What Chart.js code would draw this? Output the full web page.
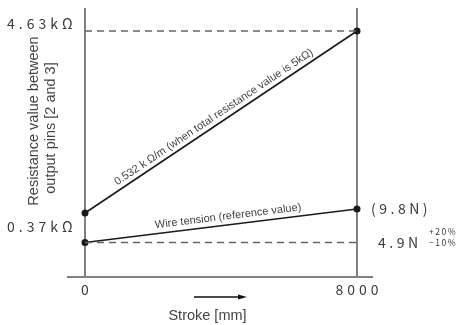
<!DOCTYPE html>
<html><head><meta charset="utf-8">
<script src="https://cdn.jsdelivr.net/npm/chart.js@4/dist/chart.umd.min.js"></script>
<style>html,body{margin:0;padding:0;background:#fff}#wrap{width:460px;height:325px;position:relative}</style>
</head><body><div id="wrap"><canvas id="c" width="460" height="325"></canvas></div>
<script>
// ---- data ----
const strokeMm = [0, 8000];
const resistanceKOhm = [0.37, 4.63];
const resistanceMaxKOhm = [4.63, 4.63];
const tensionN = [4.9, 9.8];
const tensionRefN = [4.9, 4.9];
const xTickLabels = ['0', '8000'];
const resLabels = ['0.37kΩ', '4.63kΩ'];
const tensionEndLabel = '(9.8N)';
const tensionRefLabel = '4.9N';
const tolPlus = '+20%';
const tolMinus = '−10%';
const slopeText = '0.532 k Ω/m (when total resistance value is 5kΩ)';
const tensionText = 'Wire tension (reference value)';
const yTitle = ['Resistance value between', 'output pins [2 and 3]'];
const xTitle = 'Stroke [mm]';

const pts = (xs, ys) => xs.map((x, i) => ({x, y: ys[i]}));
const JP = '"Noto Sans CJK JP", "DejaVu Sans", sans-serif';
const SANS = '"Liberation Sans", Arial, sans-serif';

function spacedText(ctx, txt, x, y, sp, align) {
  ctx.save();
  if ('letterSpacing' in ctx) {
    ctx.letterSpacing = sp + 'px';
    let w = ctx.measureText(txt).width - sp;
    let sx = align === 'center' ? x - w / 2 : align === 'right' ? x - w : x;
    ctx.textAlign = 'left';
    ctx.fillText(txt, sx, y);
  } else {
    ctx.textAlign = align; ctx.fillText(txt, x, y);
  }
  ctx.restore();
}

const decor = {
  id: 'decor',
  beforeDatasetsDraw(chart) {
    const {ctx, chartArea: a, scales: {x}} = chart;
    ctx.save();
    ctx.strokeStyle = '#808080';
    ctx.lineWidth = 2;
    ctx.beginPath();
    ctx.moveTo(a.left, a.bottom); ctx.lineTo(a.right, a.bottom);
    strokeMm.forEach(v => { const px = Math.round(x.getPixelForValue(v)); ctx.moveTo(px, a.top); ctx.lineTo(px, a.bottom); });
    ctx.stroke();
    ctx.restore();
  },
  afterDatasetsDraw(chart) {
    const {ctx, chartArea: a, scales: {x, y, y2}} = chart;
    ctx.save();
    ctx.fillStyle = '#3a3a3a';
    ctx.textBaseline = 'middle';
    // resistance labels
    ctx.font = '14px ' + JP;
    spacedText(ctx, resLabels[1], 7, y.getPixelForValue(resistanceKOhm[1]) - 7, 4, 'left');
    spacedText(ctx, resLabels[0], 7, y.getPixelForValue(resistanceKOhm[0]) + 14, 4, 'left');
    // x tick labels
    strokeMm.forEach((v, i) => spacedText(ctx, xTickLabels[i], x.getPixelForValue(v), a.bottom + 13, 4, 'center'));
    // tension labels
    const xr = x.getPixelForValue(strokeMm[1]);
    spacedText(ctx, tensionEndLabel, xr + 14, y2.getPixelForValue(tensionN[1]), 3.5, 'left');
    spacedText(ctx, tensionRefLabel, xr + 21, y2.getPixelForValue(tensionRefN[1]), 3.5, 'left');
    ctx.font = '8.5px ' + JP;
    spacedText(ctx, tolPlus, xr + 72, y2.getPixelForValue(tensionRefN[1]) - 11, 1.5, 'left');
    spacedText(ctx, tolMinus, xr + 72, y2.getPixelForValue(tensionRefN[1]) + 0.5, 1.5, 'left');
    // y title
    ctx.font = '14.5px ' + SANS;
    ctx.fillStyle = '#444';
    ctx.save(); ctx.translate(34, 121); ctx.rotate(-Math.PI / 2); ctx.textAlign = 'center'; ctx.fillText(yTitle[0], 0, 0); ctx.restore();
    ctx.save(); ctx.translate(50.5, 128); ctx.rotate(-Math.PI / 2); ctx.textAlign = 'center'; ctx.fillText(yTitle[1], 0, 0); ctx.restore();
    // x title
    ctx.font = '14.5px ' + SANS;
    ctx.textAlign = 'center';
    ctx.fillText(xTitle, 207.5, 316);
    // arrow
    ctx.strokeStyle = '#111'; ctx.fillStyle = '#111'; ctx.lineWidth = 1.5;
    ctx.beginPath(); ctx.moveTo(194, 297); ctx.lineTo(240, 297); ctx.stroke();
    ctx.beginPath(); ctx.moveTo(247, 297); ctx.lineTo(238, 294.5); ctx.lineTo(238, 299.5); ctx.closePath(); ctx.fill();
    // rotated annotations
    ctx.fillStyle = '#444';
    const ann = (ys, scale, frac, off, txt, font) => {
      const x0 = x.getPixelForValue(strokeMm[0]), x1 = x.getPixelForValue(strokeMm[1]);
      const y0 = scale.getPixelForValue(ys[0]), y1 = scale.getPixelForValue(ys[1]);
      const ang = Math.atan2(y1 - y0, x1 - x0);
      const cx = x0 + (x1 - x0) * frac, cy = y0 + (y1 - y0) * frac;
      ctx.save(); ctx.translate(cx, cy); ctx.rotate(ang);
      ctx.font = font; ctx.textAlign = 'center'; ctx.textBaseline = 'middle';
      ctx.fillText(txt, 0, -off); ctx.restore();
    };
    ann(resistanceKOhm, y, 0.49, 8, slopeText, '11px ' + SANS);
    ann(tensionN, y2, 0.53, 8.5, tensionText, '11px ' + SANS);
    ctx.restore();
  }
};

new Chart(document.getElementById('c'), {
  type: 'line',
  data: {
    datasets: [
      {data: pts(strokeMm, resistanceMaxKOhm), yAxisID: 'y', borderColor: '#666', borderWidth: 1.3, borderDash: [7, 5], pointRadius: 0},
      {data: pts(strokeMm, tensionRefN), yAxisID: 'y2', borderColor: '#666', borderWidth: 1.3, borderDash: [7, 5], pointRadius: 0},
      {data: pts(strokeMm, resistanceKOhm), yAxisID: 'y', borderColor: '#1a1a1a', borderWidth: 1.6, pointRadius: 3.5, pointBackgroundColor: '#1a1a1a', pointBorderWidth: 0},
      {data: pts(strokeMm, tensionN), yAxisID: 'y2', borderColor: '#1a1a1a', borderWidth: 1.6, pointRadius: 3.5, pointBackgroundColor: '#1a1a1a', pointBorderWidth: 0}
    ]
  },
  options: {
    responsive: false,
    devicePixelRatio: 1,
    animation: false,
    layout: {padding: {left: 67, right: 87, top: 8, bottom: 48}},
    plugins: {legend: {display: false}, tooltip: {enabled: false}},
    scales: {
      x: {type: 'linear', display: false, min: -529.4, max: 8470.6},
      y: {type: 'linear', display: false, min: -1.128, max: 5.168},
      y2: {type: 'linear', display: false, min: -0.146, max: 39.2}
    }
  },
  plugins: [decor]
});
</script></body></html>
